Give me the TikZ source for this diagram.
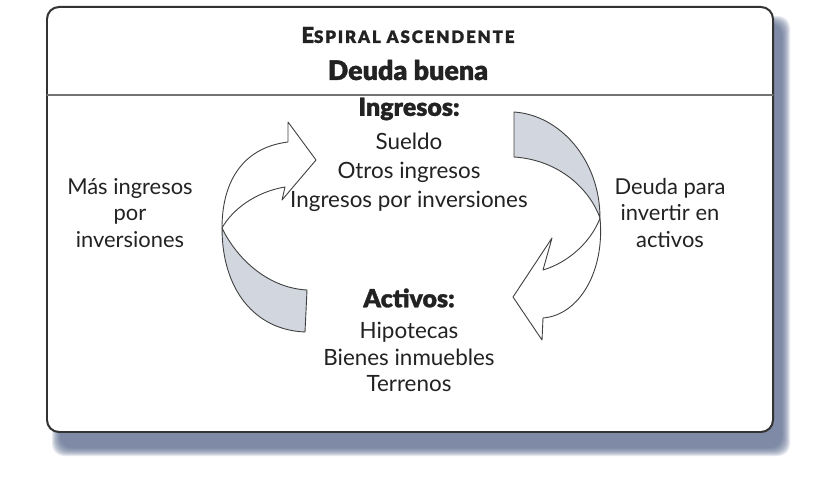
\documentclass[tikz,border=0pt]{standalone}
\usepackage{fontspec}
\setmainfont{Lato}
\newfontfamily\gruesa{Lato Black}[FakeBold=1.2]
\usetikzlibrary{positioning}
\definecolor{sombra}{HTML}{56668A}
\definecolor{banda}{HTML}{D2D7DF}
\definecolor{tinta}{HTML}{222222}
\tikzset{
  flecha/.style={draw=black!75, line width=0.9, fill=white},
  giro/.style={draw=black!75, line width=0.9, fill=banda},
  lista/.style={align=center, text=tinta, font=\fontsize{22.5}{28}\selectfont},
  cabeza/.style={text=tinta, font=\fontsize{25}{28}\selectfont\gruesa},
}
\begin{document}
\begin{tikzpicture}[x=1bp, y=-1bp, line join=round, line cap=round, font=\fontsize{22}{28}\selectfont]
  \useasboundingbox (0,0) rectangle (826,496);
  % sombra
  \foreach \k in {0,...,8}
    \fill[sombra, opacity=0.15, rounded corners=12] (52+\k,16+\k) rectangle (790-\k,456-\k);
  % marco
  \draw[line width=2, draw=black!80, fill=white, rounded corners=12] (47,7) rectangle (773,432);
  \draw[line width=1.3, black!55] (47,95) -- (773,95);
  % titulos
  \node[text=tinta, font=\fontsize{22}{24}\selectfont\gruesa] (titulo) at (408,35) {E\fontsize{17}{18}\selectfont\addfontfeature{LetterSpace=11} SPIRAL ASCENDENTE};
  \node[text=tinta, font=\fontsize{27}{28}\selectfont\gruesa] (deuda) at (408,70) {Deuda buena};
  \node[cabeza] (ingresos) at (409,109) {Ingresos:};
  \node[lista, font=\fontsize{22.5}{29}\selectfont] (listaing) at (409,172) {Sueldo\\Otros ingresos\\Ingresos por inversiones};
  \node[cabeza] (activos) at (409,298) {Activos:};
  \node[lista, font=\fontsize{22.5}{26.5}\selectfont] (listaact) at (409,357) {Hipotecas\\Bienes inmuebles\\Terrenos};
  \node[lista, font=\fontsize{22}{26.5}\selectfont] (izq) at (130,213) {Más ingresos\\por\\inversiones};
  \node[lista, font=\fontsize{22}{26.5}\selectfont] (der) at (670,213) {Deuda para\\invertir en\\activos};
  % flecha izquierda
  \draw[giro] (222,228) .. controls (222,290) and (255,330) .. (305,332) -- (307,290)
    .. controls (270,288) and (240,262) .. (224,232) -- cycle;
  \draw[flecha] (288,142) .. controls (240,148) and (222,185) .. (222,228)
    .. controls (232,210) and (255,192) .. (285,187) -- (282,200) -- (316,160) -- (288,122) -- cycle;
  % flecha derecha
  \draw[giro] (514,112) .. controls (560,115) and (600,160) .. (600,218)
    .. controls (590,190) and (560,160) .. (514,157) -- cycle;
  \draw[flecha] (600,218) .. controls (605,270) and (580,315) .. (543,318) -- (542,340) -- (513,297)
    -- (552,238) -- (543,270) .. controls (570,262) and (592,240) .. (600,218) -- cycle;
\end{tikzpicture}
\end{document}
